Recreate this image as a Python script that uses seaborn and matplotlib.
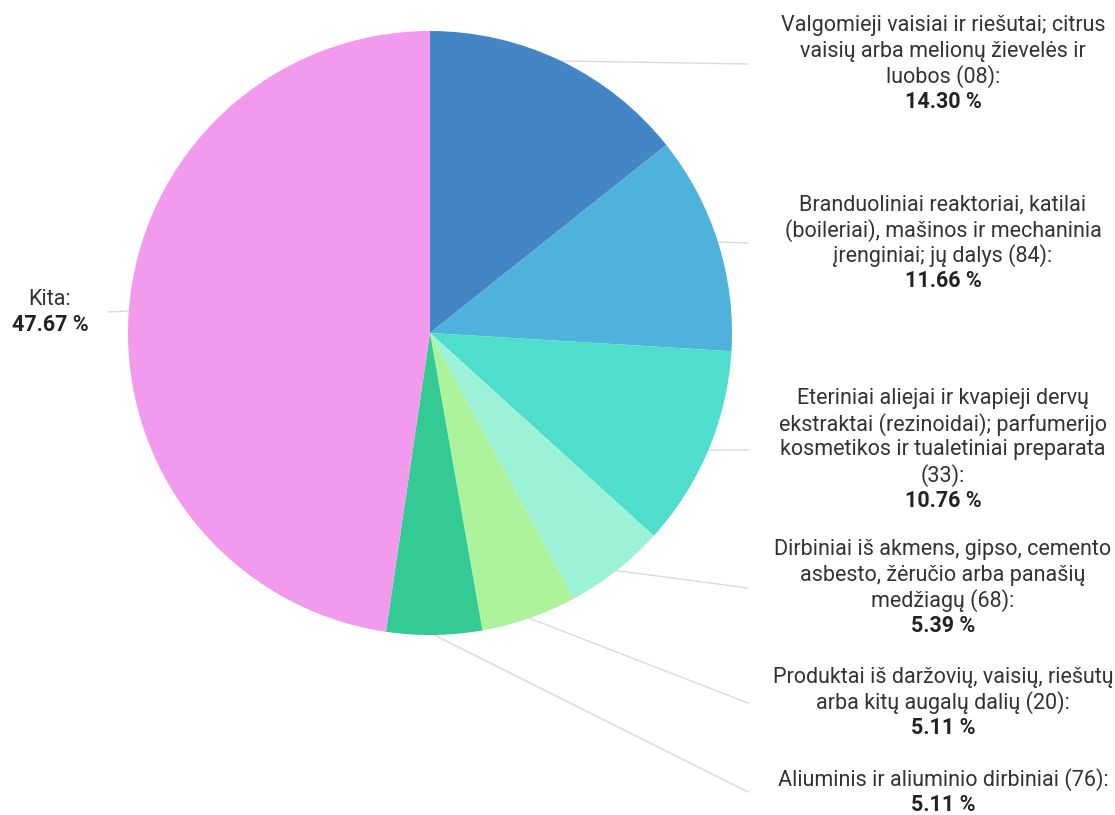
import numpy as np
import matplotlib.pyplot as plt
import seaborn as sns

names = [
    "Valgomieji vaisiai ir riešutai; citrus\nvaisių arba melionų žievelės ir\nluobos (08):",
    "Branduoliniai reaktoriai, katilai\n(boileriai), mašinos ir mechaninia\nįrenginiai; jų dalys (84):",
    "Eteriniai aliejai ir kvapieji dervų\nekstraktai (rezinoidai); parfumerijo\nkosmetikos ir tualetiniai preparata\n(33):",
    "Dirbiniai iš akmens, gipso, cemento\nasbesto, žėručio arba panašių\nmedžiagų (68):",
    "Produktai iš daržovių, vaisių, riešutų\narba kitų augalų dalių (20):",
    "Aliuminis ir aliuminio dirbiniai (76):",
    "Kita:",
]
shares = [14.30, 11.66, 10.76, 5.39, 5.11, 5.11, 47.67]
colors = ["#4485C6", "#4FB2DC", "#50DECC", "#9BF2D6", "#ACF39B", "#34CA93", "#F29AEE"]

# layout (pixels from top-left of the 1115x815 canvas)
W, H = 1115, 815
cx, cy, R = 430, 333, 302
label_y = [64, 243, 450, 588, 703, 792, 312]
step = 25.5  # line step in px

sns.set_theme(style="white")
plt.rcParams["font.family"] = ["Roboto", "DejaVu Sans"]

fig = plt.figure(figsize=(W / 100, H / 100), dpi=100)
ax = fig.add_axes([0, 0, 1, 1])

wedges, _ = ax.pie(shares, colors=colors, startangle=90, counterclock=False,
                   radius=1, center=(0, 0), wedgeprops=dict(linewidth=0))
ax.set_xlim(-cx / R, (W - cx) / R)
ax.set_ylim(-(H - cy) / R, cy / R)
ax.set_aspect("equal")
ax.axis("off")

fs = 15.5
for i, w in enumerate(wedges):
    ang = np.deg2rad((w.theta1 + w.theta2) / 2)
    x0, y0 = np.cos(ang), np.sin(ang)
    lines = names[i].split("\n") + [f"{shares[i]:.2f} %"]
    ly = (cy - label_y[i]) / R
    if x0 > 0:
        x1, tx = (748 - cx) / R, (943 - cx) / R
    else:
        x1, tx = (108 - cx) / R, (50 - cx) / R
    ax.plot([x0, x1], [y0, ly], color="#DADADA", lw=1, zorder=0)
    for k, s in enumerate(lines):
        py = label_y[i] + (k - (len(lines) - 1) / 2) * step
        bold = k == len(lines) - 1
        ax.text(tx, (cy - py) / R, s, ha="center", va="center", fontsize=fs,
                color="#222222" if bold else "#333333",
                fontweight="bold" if bold else "normal")

fig.savefig("out.png", dpi=100)
